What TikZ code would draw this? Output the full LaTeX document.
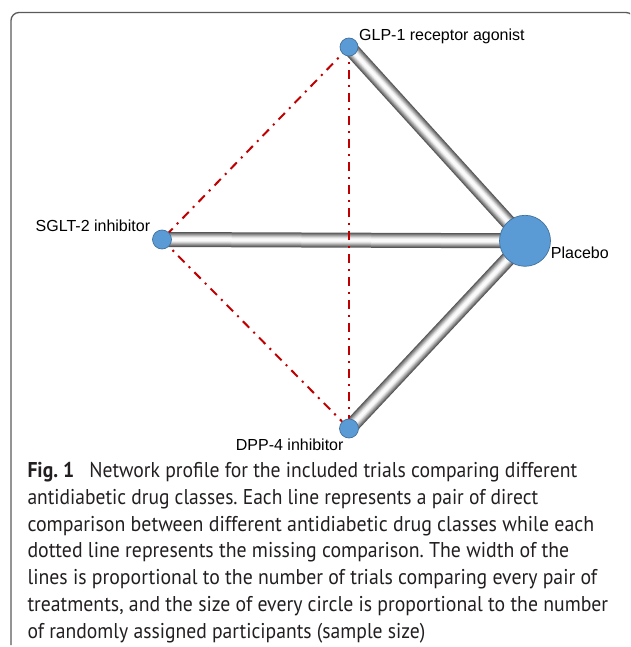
\documentclass[tikz,border=0pt]{standalone}
\usepackage{fontspec}
\setmainfont{PT Sans}
\newfontfamily\labelfont{Liberation Sans}
\usetikzlibrary{backgrounds}
\frenchspacing
\definecolor{nodeblue}{RGB}{91,155,213}
\definecolor{nodeedge}{RGB}{65,113,156}
\definecolor{missred}{RGB}{192,0,0}
\definecolor{framegray}{RGB}{90,90,90}
\definecolor{captext}{RGB}{35,31,32}
\tikzset{
  drug/.style={circle, fill=nodeblue, draw=nodeedge, line width=0.7pt, inner sep=0pt},
  lbl/.style={font=\labelfont\fontsize{16}{19}\selectfont, inner sep=0pt, anchor=base west},
  capline/.style={font=\fontsize{21.4}{26.8}\selectfont, text=captext, inner sep=0pt, anchor=base west},
  missing/.style={draw=missred, line width=2pt, dash pattern=on 9pt off 6pt on 2pt off 6pt},
}
\newcommand{\tubeline}[2]{%
  \foreach \w/\c in {15/black!66,13/black!54,11/black!42,9/black!30,7/black!18,5/black!8,3/black!2}{%
    \draw[line width=\w pt, color=\c, line cap=round] (#1.center) -- (#2.center);}%
}
\newcommand{\capfit}[2]{\resizebox{#1pt}{\height}{#2}}
\begin{document}
\begin{tikzpicture}[x=1pt, y=-1pt]
\useasboundingbox (0,0) rectangle (630,647);
\begin{scope}
\clip (0,0) rectangle (630,647);
\draw[framegray, line width=1.3pt, rounded corners=8pt] (11,645) -- (11,12.5) -- (634,12.5) -- (634,40);
\end{scope}
% nodes
\node[drug, minimum size=18pt] (glp) at (349,47) {};
\node[drug, minimum size=19pt] (sglt) at (162,239.5) {};
\node[drug, minimum size=19pt] (dpp) at (349,428.5) {};
\node[drug, minimum size=51pt] (pla) at (525,240.8) {};
\begin{scope}[on background layer]
  \tubeline{glp}{pla}
  \tubeline{sglt}{pla}
  \tubeline{dpp}{pla}
  \draw[missing] (glp.center) -- (sglt.center);
  \draw[missing] (glp.center) -- (dpp.center);
  \draw[missing] (sglt.center) -- (dpp.center);
\end{scope}
% labels
\node[lbl] (lglp) at (359,41) {GLP-1 receptor agonist};
\node[lbl] (lsglt) at (35.5,231.5) {SGLT-2 inhibitor};
\node[lbl] (ldpp) at (235.7,450.7) {DPP-4 inhibitor};
\node[lbl] (lpla) at (550.7,258.3) {Placebo};
% caption
\node[capline] (c1) at (27.3,477.5) {\capfit{549.7}{\textbf{Fig. 1}\hspace{16.4pt}Network profile for the included trials comparing different}};
\node[capline] (c2) at (27.3,504.3) {\capfit{510.7}{antidiabetic drug classes. Each line represents a pair of direct}};
\node[capline] (c3) at (27.3,531.1) {\capfit{566.7}{comparison between different antidiabetic drug classes while each}};
\node[capline] (c4) at (27.3,557.9) {\capfit{541.7}{dotted line represents the missing comparison. The width of the}};
\node[capline] (c5) at (27.3,584.7) {\capfit{569.7}{lines is proportional to the number of trials comparing every pair of}};
\node[capline] (c6) at (27.3,611.5) {\capfit{580.7}{treatments, and the size of every circle is proportional to the number}};
\node[capline] (c7) at (27.3,638.3) {\scalebox{0.917}[1]{of randomly assigned participants (sample size)}};
\end{tikzpicture}
\end{document}
